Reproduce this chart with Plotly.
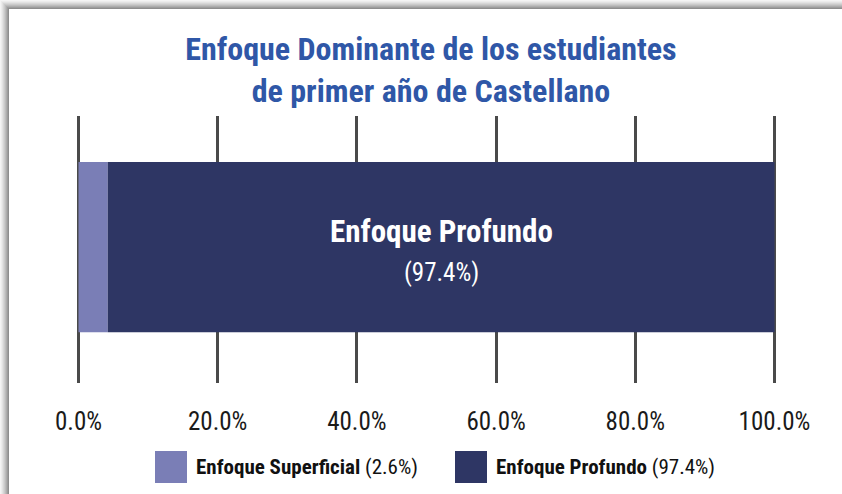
import plotly.graph_objects as go

# ---- data ----
categories = ["Enfoque Superficial", "Enfoque Profundo"]
bar_values = [4.2, 95.8]            # segment widths as drawn (%)
label_values = ["2.6%", "97.4%"]    # percentages printed on the chart
colors = ["#7a7eb6", "#2e3664"]
tick_vals = [0, 20, 40, 60, 80, 100]
tick_text = ["0.0%", "20.0%", "40.0%", "60.0%", "80.0%", "100.0%"]
title_text = "Enfoque Dominante de los estudiantes<br>de primer año de Castellano"

W, H = 842, 494
FONT = "Roboto Condensed, Roboto, sans-serif"

def px(x):
    return x / W

def py(y):
    return 1 - y / H

# axis range padded slightly so the 0% and 100% grid lines are drawn
X0, X1 = -0.5, 100.5
PX0, PX1 = 78.5, 774.5          # pixel positions of 0% and 100%
k = (PX1 - PX0) / 100.0
dom_l = PX0 + X0 * k
dom_r = PX0 + X1 * k

fig = go.Figure()
base = 0
for cat, val, col in zip(categories, bar_values, colors):
    fig.add_trace(go.Bar(
        x=[val], y=["row"], base=[base], orientation="h",
        marker=dict(color=col, line=dict(width=0)),
        width=0.637, name=cat, showlegend=False, hoverinfo="skip",
    ))
    base += val

# label inside the dominant segment
mid = bar_values[0] + bar_values[1] / 2
fig.add_annotation(x=mid, y="row", xref="x", yref="y", yshift=16,
                   text="<b>" + categories[1] + "</b>", showarrow=False,
                   font=dict(family=FONT, size=31, color="white"))
fig.add_annotation(x=mid, y="row", xref="x", yref="y", yshift=-25,
                   text="(" + label_values[1] + ")", showarrow=False,
                   font=dict(family=FONT, size=25, color="white"))

shapes = []
# card shadow (top and left)
shadow = ["#f4f4f4", "#ececec", "#e2e2e2", "#d6d6d6", "#cacaca",
          "#bcbcbc", "#adadad", "#9d9d9d", "#8e8e8e"]
for i, c in enumerate(shadow):
    shapes.append(dict(type="rect", xref="paper", yref="paper",
                       x0=px(i), x1=px(W), y0=py(i), y1=py(i + 1),
                       fillcolor=c, line=dict(width=0), layer="above"))
    shapes.append(dict(type="rect", xref="paper", yref="paper",
                       x0=px(i), x1=px(i + 1), y0=py(i), y1=py(H),
                       fillcolor=c, line=dict(width=0), layer="above"))

# custom legend
leg_x = [155, 455]
for i, (cat, lab, col) in enumerate(zip(categories, label_values, colors)):
    shapes.append(dict(type="rect", xref="paper", yref="paper",
                       x0=px(leg_x[i]), x1=px(leg_x[i] + 32),
                       y0=py(483), y1=py(451),
                       fillcolor=col, line=dict(width=0)))
    fig.add_annotation(x=px(leg_x[i] + 39), y=py(467), xref="paper", yref="paper",
                       xanchor="left", yanchor="middle", showarrow=False,
                       text="<b>" + cat + "</b> (" + lab + ")",
                       font=dict(family=FONT, size=21, color="#111111"))

fig.update_layout(
    width=W, height=H, autosize=False,
    margin=dict(l=0, r=0, t=0, b=0, pad=0),
    paper_bgcolor="white", plot_bgcolor="white",
    barmode="overlay",
    title=dict(text="<b>" + title_text + "</b>", x=px(431), xanchor="center",
               y=py(60), yanchor="middle", automargin=False,
               font=dict(family=FONT, size=32, color="#2f57a7")),
    xaxis=dict(domain=[px(dom_l), px(dom_r)], range=[X0, X1],
               tickvals=tick_vals, ticktext=tick_text,
               showgrid=True, gridcolor="#4a4a4a", gridwidth=3,
               zeroline=False, showline=False, ticks="",
               ticklabelstandoff=21, automargin=False,
               tickfont=dict(family=FONT, size=25, color="#1a1a1a")),
    yaxis=dict(domain=[py(383), py(116)], range=[-0.509, 0.491],
               showticklabels=False, showgrid=False, zeroline=False,
               type="category", automargin=False),
    shapes=shapes,
)

fig.write_html("out.html",
               config={"displayModeBar": False, "staticPlot": True},
               post_script="document.body.style.margin='0px';")
